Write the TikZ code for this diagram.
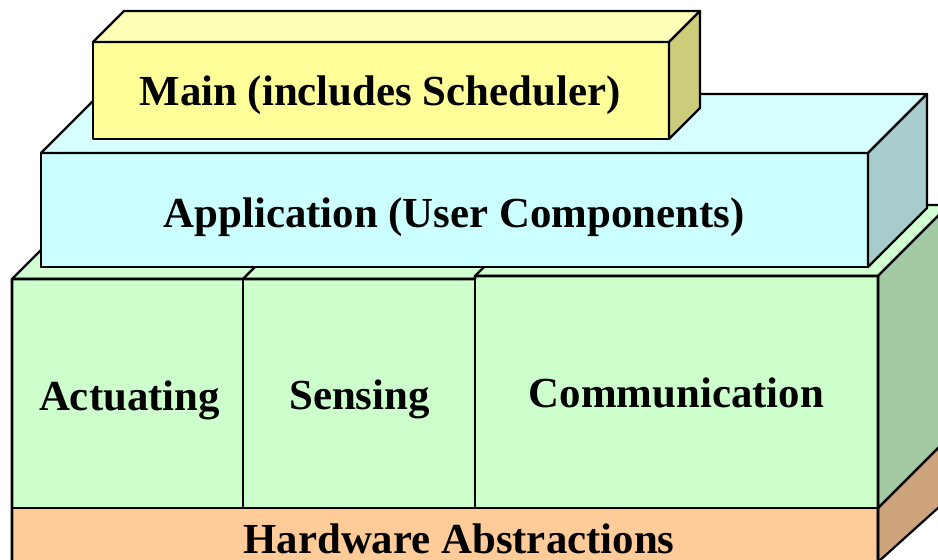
\documentclass[tikz,border=0pt]{standalone}
\usepackage{fontspec}
\setmainfont{Liberation Serif}
\definecolor{mainfront}{HTML}{FFFF99}
\definecolor{maintop}{HTML}{FFFFB8}
\definecolor{mainside}{HTML}{CCCC7A}
\definecolor{appfront}{HTML}{CCFFFF}
\definecolor{apptop}{HTML}{D6FFFF}
\definecolor{appside}{HTML}{A6CCCC}
\definecolor{grnfront}{HTML}{CCFFCC}
\definecolor{grntop}{HTML}{D2FFD2}
\definecolor{grnside}{HTML}{A3C9A3}
\definecolor{hwfront}{HTML}{FFCC99}
\definecolor{hwside}{HTML}{CCA37A}
\tikzset{
  face/.style={draw=black, line width=2.2bp, line join=round},
  thinface/.style={draw=black, line width=1.2bp, line join=round},
  frontbox/.style={rectangle, inner sep=0pt, outer sep=0pt, anchor=north west},
  lbl/.style={anchor=base, inner sep=0pt, font=\fontsize{43}{48}\selectfont\bfseries},
  outline/.style={draw=black, line width=2.6bp, line join=round, line cap=round}
}
\begin{document}
\begin{tikzpicture}[x=1bp,y=-1bp]
\useasboundingbox (0,0) rectangle (938,560);
\clip (0,0) rectangle (938,560);

% ---------- Hardware layer ----------
\node[frontbox, thinface, fill=hwfront, minimum width=866bp, minimum height=54bp] (hw) at (12,508) {};
\coordinate (hwsb) at (948,499);
\draw[face, fill=hwside] (hw.north east) -- ++(70,-70) -- (hwsb) -- (hw.south east) -- cycle;

% ---------- Green layer: top faces ----------
\node[frontbox, thinface, fill=grnfront, minimum width=231bp, minimum height=229bp] (act) at (12,279) {};
\node[frontbox, thinface, fill=grnfront, minimum width=232bp, minimum height=229bp] (sens) at (243,279) {};
\node[frontbox, thinface, fill=grnfront, minimum width=403bp, minimum height=232bp] (comm) at (475,276) {};
\draw[face, fill=grntop] (act.north west) -- ++(71,-71) -- ++(231,0) -- (act.north east) -- cycle;
\draw[face, fill=grntop] (sens.north west) -- ++(71,-71) -- ++(232,0) -- (sens.north east) -- cycle;
\draw[face, fill=grntop] (comm.north west) -- ++(71,-71) -- ++(403,0) -- (comm.north east) -- cycle;
\draw[face, fill=grnside] (comm.north east) -- ++(71,-71) -- ++(0,232) -- (comm.south east) -- cycle;
% redraw fronts above their tops
\node[frontbox, thinface, fill=grnfront, minimum width=231bp, minimum height=229bp] (act2) at (12,279) {};
\node[frontbox, thinface, fill=grnfront, minimum width=232bp, minimum height=229bp] (sens2) at (243,279) {};
\node[frontbox, thinface, fill=grnfront, minimum width=403bp, minimum height=232bp] (comm2) at (475,276) {};
\draw[outline] (hw.south west) -- (act2.north west) -- (sens2.north east) -- (comm2.north west) -- (comm2.north east) -- (hw.south east);

% ---------- Application layer ----------
\node[frontbox, face, fill=appfront, minimum width=827bp, minimum height=114bp] (app) at (41,153) {};
\draw[face, fill=apptop] (app.north west) -- ++(59,-59) -- ++(827,0) -- (app.north east) -- cycle;
\draw[face, fill=appside] (app.north east) -- ++(59,-59) -- ++(0,114) -- (app.south east) -- cycle;
\draw[outline] (app.north west) -- (app.south west) -- (app.south east);

% ---------- Main layer ----------
\node[frontbox, face, fill=mainfront, minimum width=576bp, minimum height=97bp] (main) at (93,42) {};
\draw[face, fill=maintop] (main.north west) -- ++(31,-31) -- ++(576,0) -- (main.north east) -- cycle;
\draw[face, fill=mainside] (main.north east) -- ++(31,-31) -- ++(0,97) -- (main.south east) -- cycle;

% ---------- Labels ----------
\node[lbl] (tmain) at (380,106) {Main (includes Scheduler)};
\node[lbl] (tapp) at (454,228) {Application (User Components)};
\node[lbl] (tact) at (129.5,410) {Actuating};
\node[lbl] (tsens) at (359.5,409) {Sensing};
\node[lbl] (tcomm) at (676.5,407) {Communication};
\node[lbl] (thw) at (459,553) {Hardware Abstractions};
\end{tikzpicture}
\end{document}
